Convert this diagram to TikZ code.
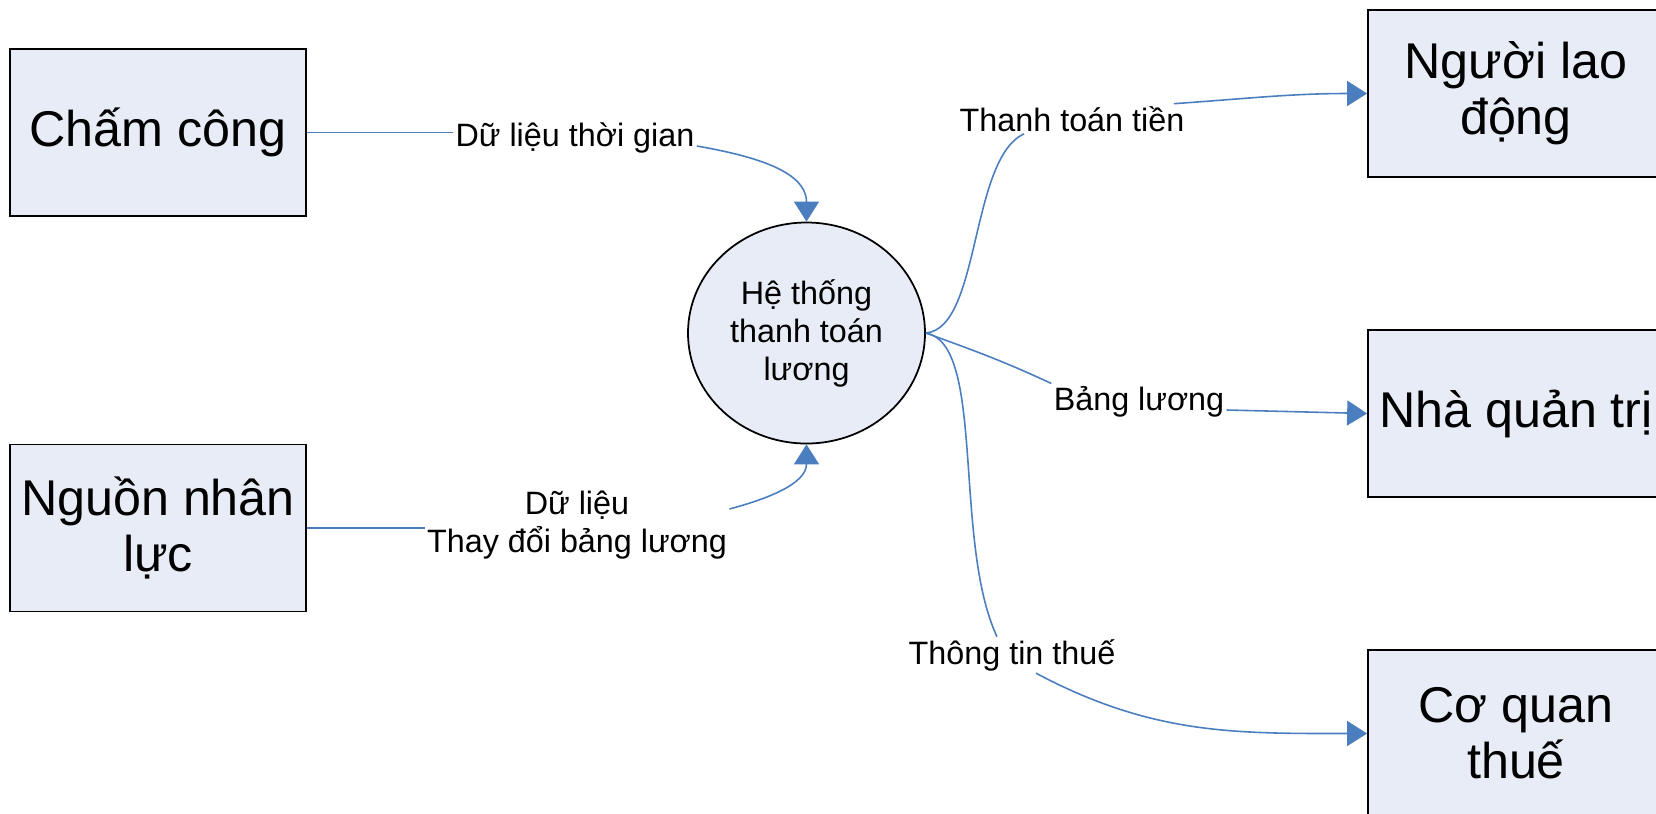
\documentclass[tikz,border=0pt]{standalone}
\usepackage{fontspec}
\setmainfont{Liberation Sans}
\usepackage{tikz}
\usetikzlibrary{positioning, shapes.geometric, arrows.meta}
\definecolor{myblue}{RGB}{74,126,191}
\definecolor{myfill}{RGB}{231,236,246}
\tikzset{
  box/.style={draw=black, line width=0.5pt, fill=myfill, minimum width=2.96cm,
    minimum height=1.67cm, inner sep=0, align=center,
    font=\fontsize{14.3}{16}\selectfont},
  proc/.style={ellipse, draw=black, line width=0.5pt, fill=myfill,
    minimum width=2.37cm, minimum height=2.21cm, inner sep=0, align=center,
    font=\fontsize{9.2}{10.8}\selectfont},
  lbl/.style={inner sep=0.5pt, align=center, font=\fontsize{9.2}{10.6}\selectfont},
  link/.style={draw=myblue, line width=0.45pt},
  flow/.style={link, -{Triangle[length=2mm,width=2.5mm]}}
}

\begin{document}
\begin{tikzpicture}
\useasboundingbox (0,0) rectangle (16.56,-8.13);

\node [box] (cham) at (1.58,-1.325) {Chấm công};
\node [box] (nguon) at (1.58,-5.28) {Nguồn nhân\\lực};
\node [proc] (heth) at (8.065,-3.33) {Hệ thống\\thanh toán\\lương};
\node [box] (nguoi) at (15.16,-0.935) {Người lao\\động};
\node [box] (nhaqt) at (15.16,-4.135) {Nhà quản trị};
\node [box] (coqt) at (15.16,-7.335) {Cơ quan\\thuế};

% nhan tren cac luong
\node [lbl, anchor=base] (tgian) at (5.75,-1.46) {Dữ liệu thời gian};
\node [lbl] (tdoi) at (5.77,-5.25) {Dữ liệu\\Thay đổi bảng lương};
\node [lbl, anchor=base] (ttien) at (10.72,-1.31) {Thanh toán tiền};
\node [lbl, anchor=base] (bluong) at (11.39,-4.10) {Bảng lương};
\node [lbl, anchor=base] (thue) at (10.12,-6.64) {Thông tin thuế};

% vao he thong
\draw [link] (cham.east) -- (cham.east -| tgian.west);
\draw [flow] (tgian.base east) to[out=-10,in=90] (heth.north);
\draw [link] (nguon.east) -- (nguon.east -| tdoi.west);
\draw [flow] ([yshift=1.6mm]tdoi.east) to[out=15,in=-90] (heth.south);

% ra khoi he thong
\draw [link] (heth.east) to[out=5,in=205,out distance=0.55cm,in distance=0.6cm] ([xshift=-4.8mm]ttien.south);
\draw [flow] ([xshift=-1.3mm]ttien.north east) to[out=4,in=180] (nguoi.west);
\draw [link] (heth.east) to[out=-20,in=155] (bluong.north west);
\draw [flow] (bluong.base east) -- (nhaqt.west);
\draw [link] (heth.east) to[out=-10,in=115,out distance=0.61cm,in distance=1.05cm] ([xshift=-1.5mm]thue.north);
\draw [flow] ([xshift=2.4mm]thue.south) to[out=-28,in=180] (coqt.west);
\end{tikzpicture}
\end{document}
